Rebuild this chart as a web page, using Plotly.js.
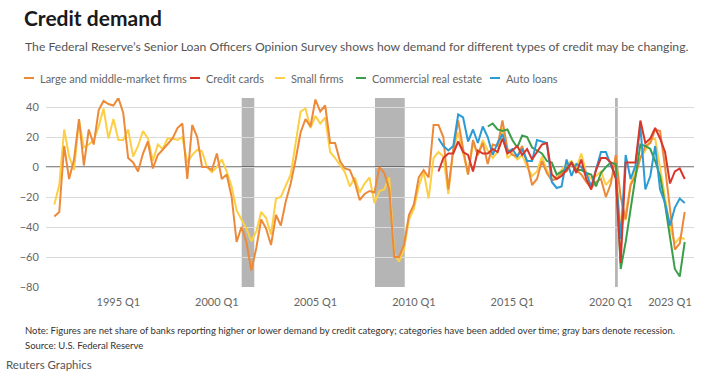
<!DOCTYPE html>
<html>
<head>
<meta charset="utf-8">
<script src="https://cdn.plot.ly/plotly-3.0.1.min.js"></script>
<style>
  html, body { margin: 0; padding: 0; background: #fff; }
  #chart { width: 701px; height: 374px; }
</style>
</head>
<body>
<div id="chart"></div>
<script>
// ---- Data (net share of banks reporting stronger demand, quarterly survey dates) ----
const firstSurvey = '1991-10-01';   // first quarterly observation
const seriesNames = ['Large and middle-market firms', 'Credit cards', 'Small firms', 'Commercial real estate', 'Auto loans'];
const seriesColors = ['#ec8a3a', '#d8362b', '#fdcf45', '#3b9e4b', '#2b9bd6'];

// starts 1991 Q4
const largeFirms = [
  -33, -30, 14, -8, 5, 32, 1, 25, 15, 38, 44, 42, 41, 46, 36, 6, 3, -3, 9, 17,
  -1, 8, 11.5, 15, 19, 26, 29, -8, 28, 20, 0, 0, -2, 9, -8, -5, -20, -50, -40, -50, -69,
  -54, -35, -41, -52, -32, -39, -23, -11, 5, 23, 32, 27, 45, 37, 41, 16, 16, 4, -1, -2,
  -10, -22, -18, -16, -17, 0, -4, -15, -60, -60, -52, -32, -25, -7, -2, -7, 28, 28, 20, -15,
  12, 31, 12, -5, 18, 8, 16, 2, 15, 14, 31, 12, 8, 7, 14, 3, -12, -8, 4, -4,
  -9, -8, -4, -3, 3, -2, -5, -10, -14, -10, -8, -20, -11, 8, -20, -35, -12, -6, 6, 14,
  16, 25, 24, 0, -28, -55, -51, -30
];
// starts 1991 Q4
const smallFirms = [
  -25, -12, 25, 7, -2, 31, 13, 15, 18, 27, 39, 19, 32, 18, 18, 25, 7, 14, 24, 19,
  4, 15, 12, 19, 19, 18, 20, 3, 8, 11.5, 10.4, 0, -3.5, 0, 5, -3, -13, -29, -35, -41,
  -49.5, -43, -30, -34, -45, -21, -20, -13, -5, 16, 37, 39, 26, 34, 29, 33, 10, 6, 1.6, -3.5,
  -13, -7, -17, -11, -7, -24, -16, -15, -7, -58, -63, -55, -35, -28, -13, -3, -21, 6, 10, 7,
  -18, 11, 23, 10, -5, 16, 8, 18, 11, 6, 10, 26, 6, 9, 5, 8, 0, -6, -3, 7,
  -2, -8, -6, -2, 2, 4, -1, 9, -4, -8, -6, -3, -12, -8, -2, -42, -31, -11, -2, 6,
  11, 18, 19, 0, -22, -40, -51, -47, -48
];
// starts 2011 Q2 (index 78)
const creditCards = [
  -3, 6, 9, 9, 17, 10, 8, -3, 11, 9, 9, 12, 10, 19, 9, 11, 14, 8, 12, 5,
  10, 15, 16, -5, -8, -6, -2, 3, -4, 5, -8, -15, -2, 6, 6, 3, -8, -64, 3, 3,
  3, 31, 16, 19, 26, 19, 10, -11, -3, -1, -8
];
// starts 2011 Q2 (index 78)
const autoLoans = [
  19, 14, 11, 14, 35, 33, 17, 25, 16, 27, 20, 8, 16, 22, 10, 12, 7, 12, 4, 4,
  18, 17, 16, -10, -14, -13, 5, -6, 2, 0, -4, -13, -2, 10, 10, 1, -6, -48, 8, -8,
  1, 27, -15, -6, 14, -15, -24, -39, -27, -21, -24
];
// starts 2013 Q4 (index 88)
const commercialRE = [
  27, 29, 25, 24, 25, 18, 13, 21, 20, 13, 11, 9, 4, 3, -5, -3, -1, 3, -2, -2,
  -4, -5, -13, -4, 0, 3, 2, -68, -50, -28, -6, 15, 14, 12, 4, -6, -25, -48, -68, -73,
  -50
];
const seriesStart = [0, 78, 0, 88, 78]; // quarter index where each series begins

const tickDates = ['1995-01-01', '2000-01-01', '2005-01-01', '2010-01-01', '2015-01-01', '2020-01-01', '2023-01-01'];
const tickLabels = ['1995 Q1', '2000 Q1', '2005 Q1', '2010 Q1', '2015 Q1', '2020 Q1', '2023 Q1'];
const yTicks = [-80, -60, -40, -20, 0, 20, 40];

const recessionStart = ['2001-04-05', '2008-01-10', '2020-03-18'];
const recessionEnd   = ['2001-11-25', '2009-07-15', '2020-05-08'];

// ---- build quarterly dates ----
function quarterDate(k) {
  const y0 = parseInt(firstSurvey.slice(0, 4), 10);
  const m0 = parseInt(firstSurvey.slice(5, 7), 10) - 1;
  const m = m0 + 3 * k;
  const y = y0 + Math.floor(m / 12);
  const mm = (m % 12) + 1;
  return y + '-' + String(mm).padStart(2, '0') + '-01';
}
function datesFor(start, n) {
  const out = [];
  for (let k = 0; k < n; k++) out.push(quarterDate(start + k));
  return out;
}

const allValues = [largeFirms, creditCards, smallFirms, commercialRE, autoLoans];
const drawOrder = [2, 0, 3, 4, 1]; // yellow underneath, red on top
const traces = drawOrder.map(s => ({
  type: 'scatter',
  mode: 'lines',
  name: seriesNames[s],
  x: datesFor(seriesStart[s], allValues[s].length),
  y: allValues[s],
  line: { color: seriesColors[s], width: 2 },
  hoverinfo: 'skip'
}));

// ---- layout helpers (pixel -> paper) ----
const W = 701, H = 374;
const M = { l: 46, r: 7, t: 98, b: 87 };
const PW = W - M.l - M.r, PH = H - M.t - M.b;
const px = x => (x - M.l) / PW;
const py = y => (H - M.b - y) / PH;

const FONT = 'Lato, "Source Sans Pro", "Open Sans", sans-serif';

const shapes = [];
for (let r = 0; r < recessionStart.length; r++) {
  shapes.push({
    type: 'rect', xref: 'x', yref: 'paper',
    x0: recessionStart[r], x1: recessionEnd[r], y0: 0, y1: 1,
    fillcolor: '#b5b5b5', line: { width: 0 }, layer: 'between'
  });
}
// zero reference line on top of recession bars
shapes.push({
  type: 'line', xref: 'paper', yref: 'y', x0: 0, x1: 1, y0: 0, y1: 0,
  line: { color: '#222', width: 1 }, layer: 'between'
});

// legend (custom, to match the compact swatches)
const legendX = [24, 190, 275, 356, 490];
const legendY = 78;
const annotations = [];
for (let s = 0; s < seriesNames.length; s++) {
  shapes.push({
    type: 'line', xref: 'paper', yref: 'paper',
    x0: px(legendX[s]), x1: px(legendX[s] + 10), y0: py(legendY), y1: py(legendY),
    line: { color: seriesColors[s], width: 2 }
  });
  annotations.push({
    xref: 'paper', yref: 'paper', x: px(legendX[s] + 14), y: py(legendY),
    xanchor: 'left', yanchor: 'middle', showarrow: false,
    text: seriesNames[s], font: { family: FONT, size: 11, color: '#666' }
  });
}

function addText(text, x, y, size, color, weight) {
  annotations.push({
    xref: 'paper', yref: 'paper', x: px(x), y: py(y),
    xanchor: 'left', yanchor: 'middle', showarrow: false, align: 'left',
    text: text, font: { family: FONT, size: size, color: color, weight: weight || 'normal' }
  });
}
addText('<b>Credit demand</b>', 22, 17, 21, '#1a1a1a');
addText('The Federal Reserve\u2019s Senior Loan Officers Opinion Survey shows how demand for different types of credit may be changing.', 23, 46, 12.2, '#555');
addText('Note: Figures are net share of banks reporting higher or lower demand by credit category; categories have been added over time; gray bars denote recession.', 23, 330, 9.5, '#333');
addText('Source: U.S. Federal Reserve', 23, 345, 9.5, '#333');
addText('Reuters Graphics', 4, 364, 11.5, '#555');

const layout = {
  width: W, height: H,
  margin: M,
  paper_bgcolor: '#fff', plot_bgcolor: '#fff',
  showlegend: false,
  font: { family: FONT, size: 11, color: '#666' },
  xaxis: {
    type: 'date',
    range: ['1991-04-30', '2024-03-21'],
    tickvals: tickDates, ticktext: tickLabels,
    showgrid: false, zeroline: false, showline: false,
    ticks: 'outside', ticklen: 5, tickcolor: 'rgba(0,0,0,0)',
    tickfont: { family: FONT, size: 11, color: '#666' }
  },
  yaxis: {
    range: [-80, 46],
    tickvals: yTicks,
    showgrid: true, gridcolor: '#dadada', gridwidth: 1,
    zeroline: false, showline: false,
    ticks: 'outside', ticklen: 4, tickcolor: 'rgba(0,0,0,0)',
    tickfont: { family: FONT, size: 11, color: '#666' }
  },
  shapes: shapes,
  annotations: annotations
};

Plotly.newPlot('chart', traces, layout, { staticPlot: true, displayModeBar: false });
</script>
</body>
</html>
